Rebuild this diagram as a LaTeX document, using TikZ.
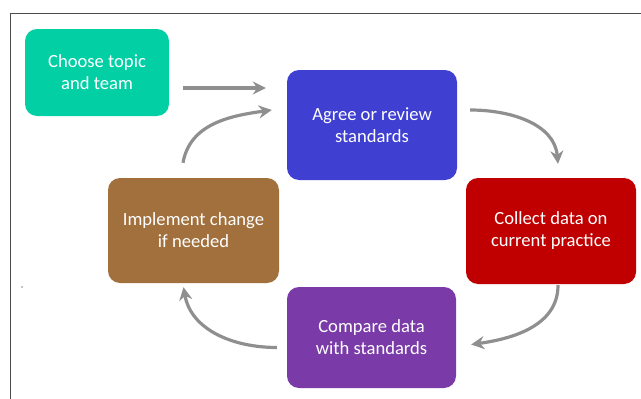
\documentclass[tikz,border=0pt]{standalone}
\usepackage{fontspec}
\setmainfont{Carlito}
\usetikzlibrary{arrows.meta,calc}

\definecolor{chooseteal}{HTML}{03CFA5}
\definecolor{agreeblue}{HTML}{3F3FD2}
\definecolor{collectred}{HTML}{C00000}
\definecolor{implbrown}{HTML}{A1703D}
\definecolor{compurple}{HTML}{7A3BA8}
\definecolor{arrowgray}{HTML}{8F8F8F}

\begin{document}
\begin{tikzpicture}[x=1pt, y=-1pt,
    stepbox/.style={rounded corners=12pt, text=white, align=center, inner sep=0pt,
        font=\fontsize{18.6}{22}\selectfont},
    flow/.style={draw=arrowgray, line width=3.2pt, -{Stealth[length=13pt, width=13pt]}}]

    \useasboundingbox (0,0) rectangle (641,399);

    % Frame
    \draw[gray!60!black, line width=0.9pt] (10,399) -- (10,13) -- (641,13);
    \fill[black] (22,287) circle (0.7);

    % Boxes
    \node[stepbox, fill=chooseteal, minimum width=144, minimum height=87] (choose) at (97,72.5) {Choose topic\\and team};
    \node[stepbox, fill=agreeblue, minimum width=170, minimum height=110] (agree) at (372,125) {Agree or review\\standards};
    \node[stepbox, fill=collectred, minimum width=170, minimum height=106] (collect) at (551,231) {Collect data on\\current practice};
    \node[stepbox, fill=compurple, minimum width=169, minimum height=101] (compare) at (371.5,337.5) {Compare data\\with standards};
    \node[stepbox, fill=implbrown, minimum width=171, minimum height=105] (implement) at (193.5,230.5) {Implement change\\if needed};

    % Arrows
    \draw[flow] ($(choose.east)+(14,15.5)$) -- ($(agree.west)+(-21,-37)$);
    \draw[flow] ($(agree.east)+(13,-15)$) to[out=0, in=95] ($(collect.north)+(7,-14)$);
    \draw[flow] ($(collect.south)+(7,1)$) to[out=-90, in=8] ($(compare.east)+(15,7)$);
    \draw[flow] ($(compare.west)+(-10,10)$) to[out=180, in=-80] ($(implement.south)+(-10,4)$);
    \draw[flow] ($(implement.north)+(-10.5,-15)$) to[out=80, in=188] ($(agree.west)+(-15,-15)$);

\end{tikzpicture}
\end{document}
